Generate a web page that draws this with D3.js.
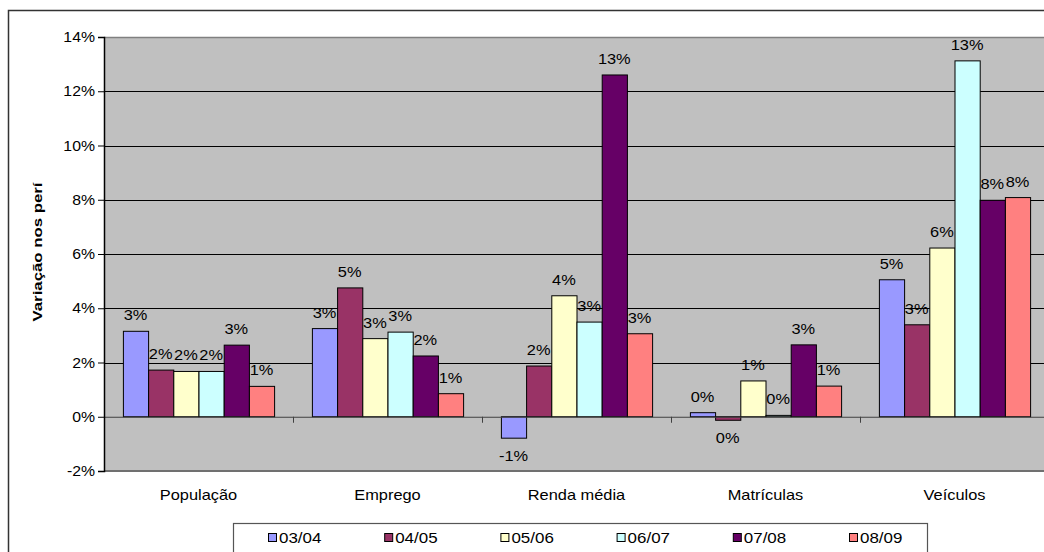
<!doctype html>
<html lang=pt>
<head>
  <meta charset=utf-8>
  <title>Variação nos períodos</title>
  <style>
    html, body { margin: 0; padding: 0; background: #fff; }
    svg { display: block; font-family: "Liberation Sans", Arial, sans-serif; }
    .grid line { stroke: #000; stroke-width: 1; }
    .bar { stroke: #000; stroke-width: 1; }
  </style>
  <script src="https://cdn.jsdelivr.net/npm/d3@7"></script>
</head>
<body>
<svg id=chart width=1044 height=552></svg>
<script>
  const categories = ['População', 'Emprego', 'Renda média', 'Matrículas', 'Veículos']
  const periods = ['03/04', '04/05', '05/06', '06/07', '07/08', '08/09']
  const colors = ['#9999FF', '#993366', '#FFFFCC', '#CCFFFF', '#660066', '#FF8080']

  // one array per period, in category order (percent)
  const v0304 = [3.15, 3.25, -0.79, 0.15, 5.05]
  const v0405 = [1.72, 4.75, 1.87, -0.13, 3.39]
  const v0506 = [1.67, 2.88, 4.46, 1.32, 6.22]
  const v0607 = [1.67, 3.12, 3.49, 0.05, 13.12]
  const v0708 = [2.64, 2.24, 12.6, 2.65, 7.98]
  const v0809 = [1.12, 0.85, 3.06, 1.13, 8.08]
  const seriesValues = [v0304, v0405, v0506, v0607, v0708, v0809]

  const yTicks = [-2, 0, 2, 4, 6, 8, 10, 12, 14]

  const plotLeft = 104
  const plotRight = 1049
  const plotTop = 37
  const plotBottom = 471
  const stretch = 1.13

  const svg = d3.select('#chart')

  // outer chart border (runs off the right and bottom)
  svg.append('rect')
    .attr('x', 8.5).attr('y', 10.5)
    .attr('width', 1100).attr('height', 600)
    .attr('fill', '#fff').attr('stroke', '#333').attr('stroke-width', 1.5)

  const y = d3.scaleLinear().domain([-2, 14]).range([plotBottom, plotTop])
  const x0 = d3.scaleBand().domain(categories).range([plotLeft, plotRight]).padding(0)
  const x1 = d3.scaleBand().domain(periods).range([0, x0.bandwidth()])
    .paddingInner(0).paddingOuter(0.75)

  // the original renders its text a little wide
  function label(sel, tx, ty, txt, opts = {}) {
    return sel.append('text')
      .attr('transform', `translate(${tx},${ty}) scale(${stretch},1)`)
      .attr('text-anchor', opts.anchor || 'middle')
      .attr('font-size', opts.size || 14)
      .attr('fill', '#000')
      .text(txt)
  }

  svg.append('rect')
    .attr('x', plotLeft).attr('y', plotTop)
    .attr('width', plotRight - plotLeft).attr('height', plotBottom - plotTop)
    .attr('fill', '#C0C0C0')

  svg.append('g').attr('class', 'grid')
    .selectAll('line')
    .data(yTicks.filter(t => t > 0 && t < 14))
    .join('line')
      .attr('x1', plotLeft).attr('x2', plotRight)
      .attr('y1', d => Math.round(y(d)) + 0.5).attr('y2', d => Math.round(y(d)) + 0.5)

  // plot border top / bottom
  svg.append('line')
    .attr('x1', plotLeft).attr('x2', plotRight)
    .attr('y1', plotTop + 0.5).attr('y2', plotTop + 0.5)
    .attr('stroke', '#808080').attr('stroke-width', 1.5)
  svg.append('line')
    .attr('x1', plotLeft).attr('x2', plotRight)
    .attr('y1', plotBottom).attr('y2', plotBottom)
    .attr('stroke', '#707070').attr('stroke-width', 2)

  // bars
  const groups = svg.append('g')
    .selectAll('g')
    .data(categories)
    .join('g')
      .attr('transform', d => `translate(${x0(d)},0)`)

  groups.selectAll('rect')
    .data((c, ci) => periods.map((p, si) => ({ p, si, v: seriesValues[si][ci] })))
    .join('rect')
      .attr('class', 'bar')
      .attr('x', d => x1(d.p) + 0.5)
      .attr('width', x1.bandwidth())
      .attr('y', d => y(Math.max(0, d.v)))
      .attr('height', d => Math.abs(y(d.v) - y(0)))
      .attr('fill', d => colors[d.si])

  // zero axis line with category ticks
  svg.append('line')
    .attr('x1', plotLeft).attr('x2', plotRight)
    .attr('y1', y(0) + 0.5).attr('y2', y(0) + 0.5)
    .attr('stroke', '#404040').attr('stroke-width', 1.2)
  svg.append('g')
    .selectAll('line')
    .data(categories.slice(1))
    .join('line')
      .attr('x1', d => x0(d) + 0.5).attr('x2', d => x0(d) + 0.5)
      .attr('y1', y(0)).attr('y2', y(0) + 6)
      .attr('stroke', '#404040')

  // y axis
  const yAxis = svg.append('g')
    .attr('transform', `translate(${plotLeft},0)`)
    .call(d3.axisLeft(y).tickValues(yTicks).tickSize(6).tickFormat(d => ''))
  yAxis.select('.domain').attr('stroke', '#000').attr('stroke-width', 1.5)
  yAxis.selectAll('.tick line').attr('stroke', '#000')
  yTicks.forEach(t => {
    label(svg, plotLeft - 9, y(t) + 5, t + '%', { anchor: 'end', size: 14 })
  })

  // data labels
  groups.each(function (c, ci) {
    const g = d3.select(this)
    periods.forEach((p, si) => {
      const v = seriesValues[si][ci]
      const cx = x1(p) + x1.bandwidth() / 2
      const ty = v >= 0 ? y(v) - 11 : y(v) + 23
      label(g, cx, ty, Math.round(v) + '%', { size: 14.5 })
    })
  })

  // category labels
  categories.forEach(c => {
    label(svg, x0(c) + x0.bandwidth() / 2, 500, c, { size: 14.5 })
  })

  // y axis title
  svg.append('text')
    .attr('transform', 'translate(42,252) rotate(-90)')
    .attr('text-anchor', 'middle')
    .attr('font-size', 13)
    .attr('font-weight', 'bold')
    .attr('textLength', 139)
    .attr('lengthAdjust', 'spacingAndGlyphs')
    .text('Variação nos perí')

  // legend
  const legend = svg.append('g')
  legend.append('rect')
    .attr('x', 233.5).attr('y', 523.5)
    .attr('width', 694).attr('height', 60)
    .attr('fill', '#fff').attr('stroke', '#555').attr('stroke-width', 1.2)
  const lx = d3.scalePoint().domain(periods).range([268, 849])
  periods.forEach((p, i) => {
    legend.append('rect')
      .attr('x', lx(p) + 0.5).attr('y', 533.5)
      .attr('width', 8).attr('height', 8)
      .attr('fill', colors[i]).attr('stroke', '#000')
    label(legend, lx(p) + 11, 543, p, { anchor: 'start', size: 15 })
  })
</script>
</body>
</html>
